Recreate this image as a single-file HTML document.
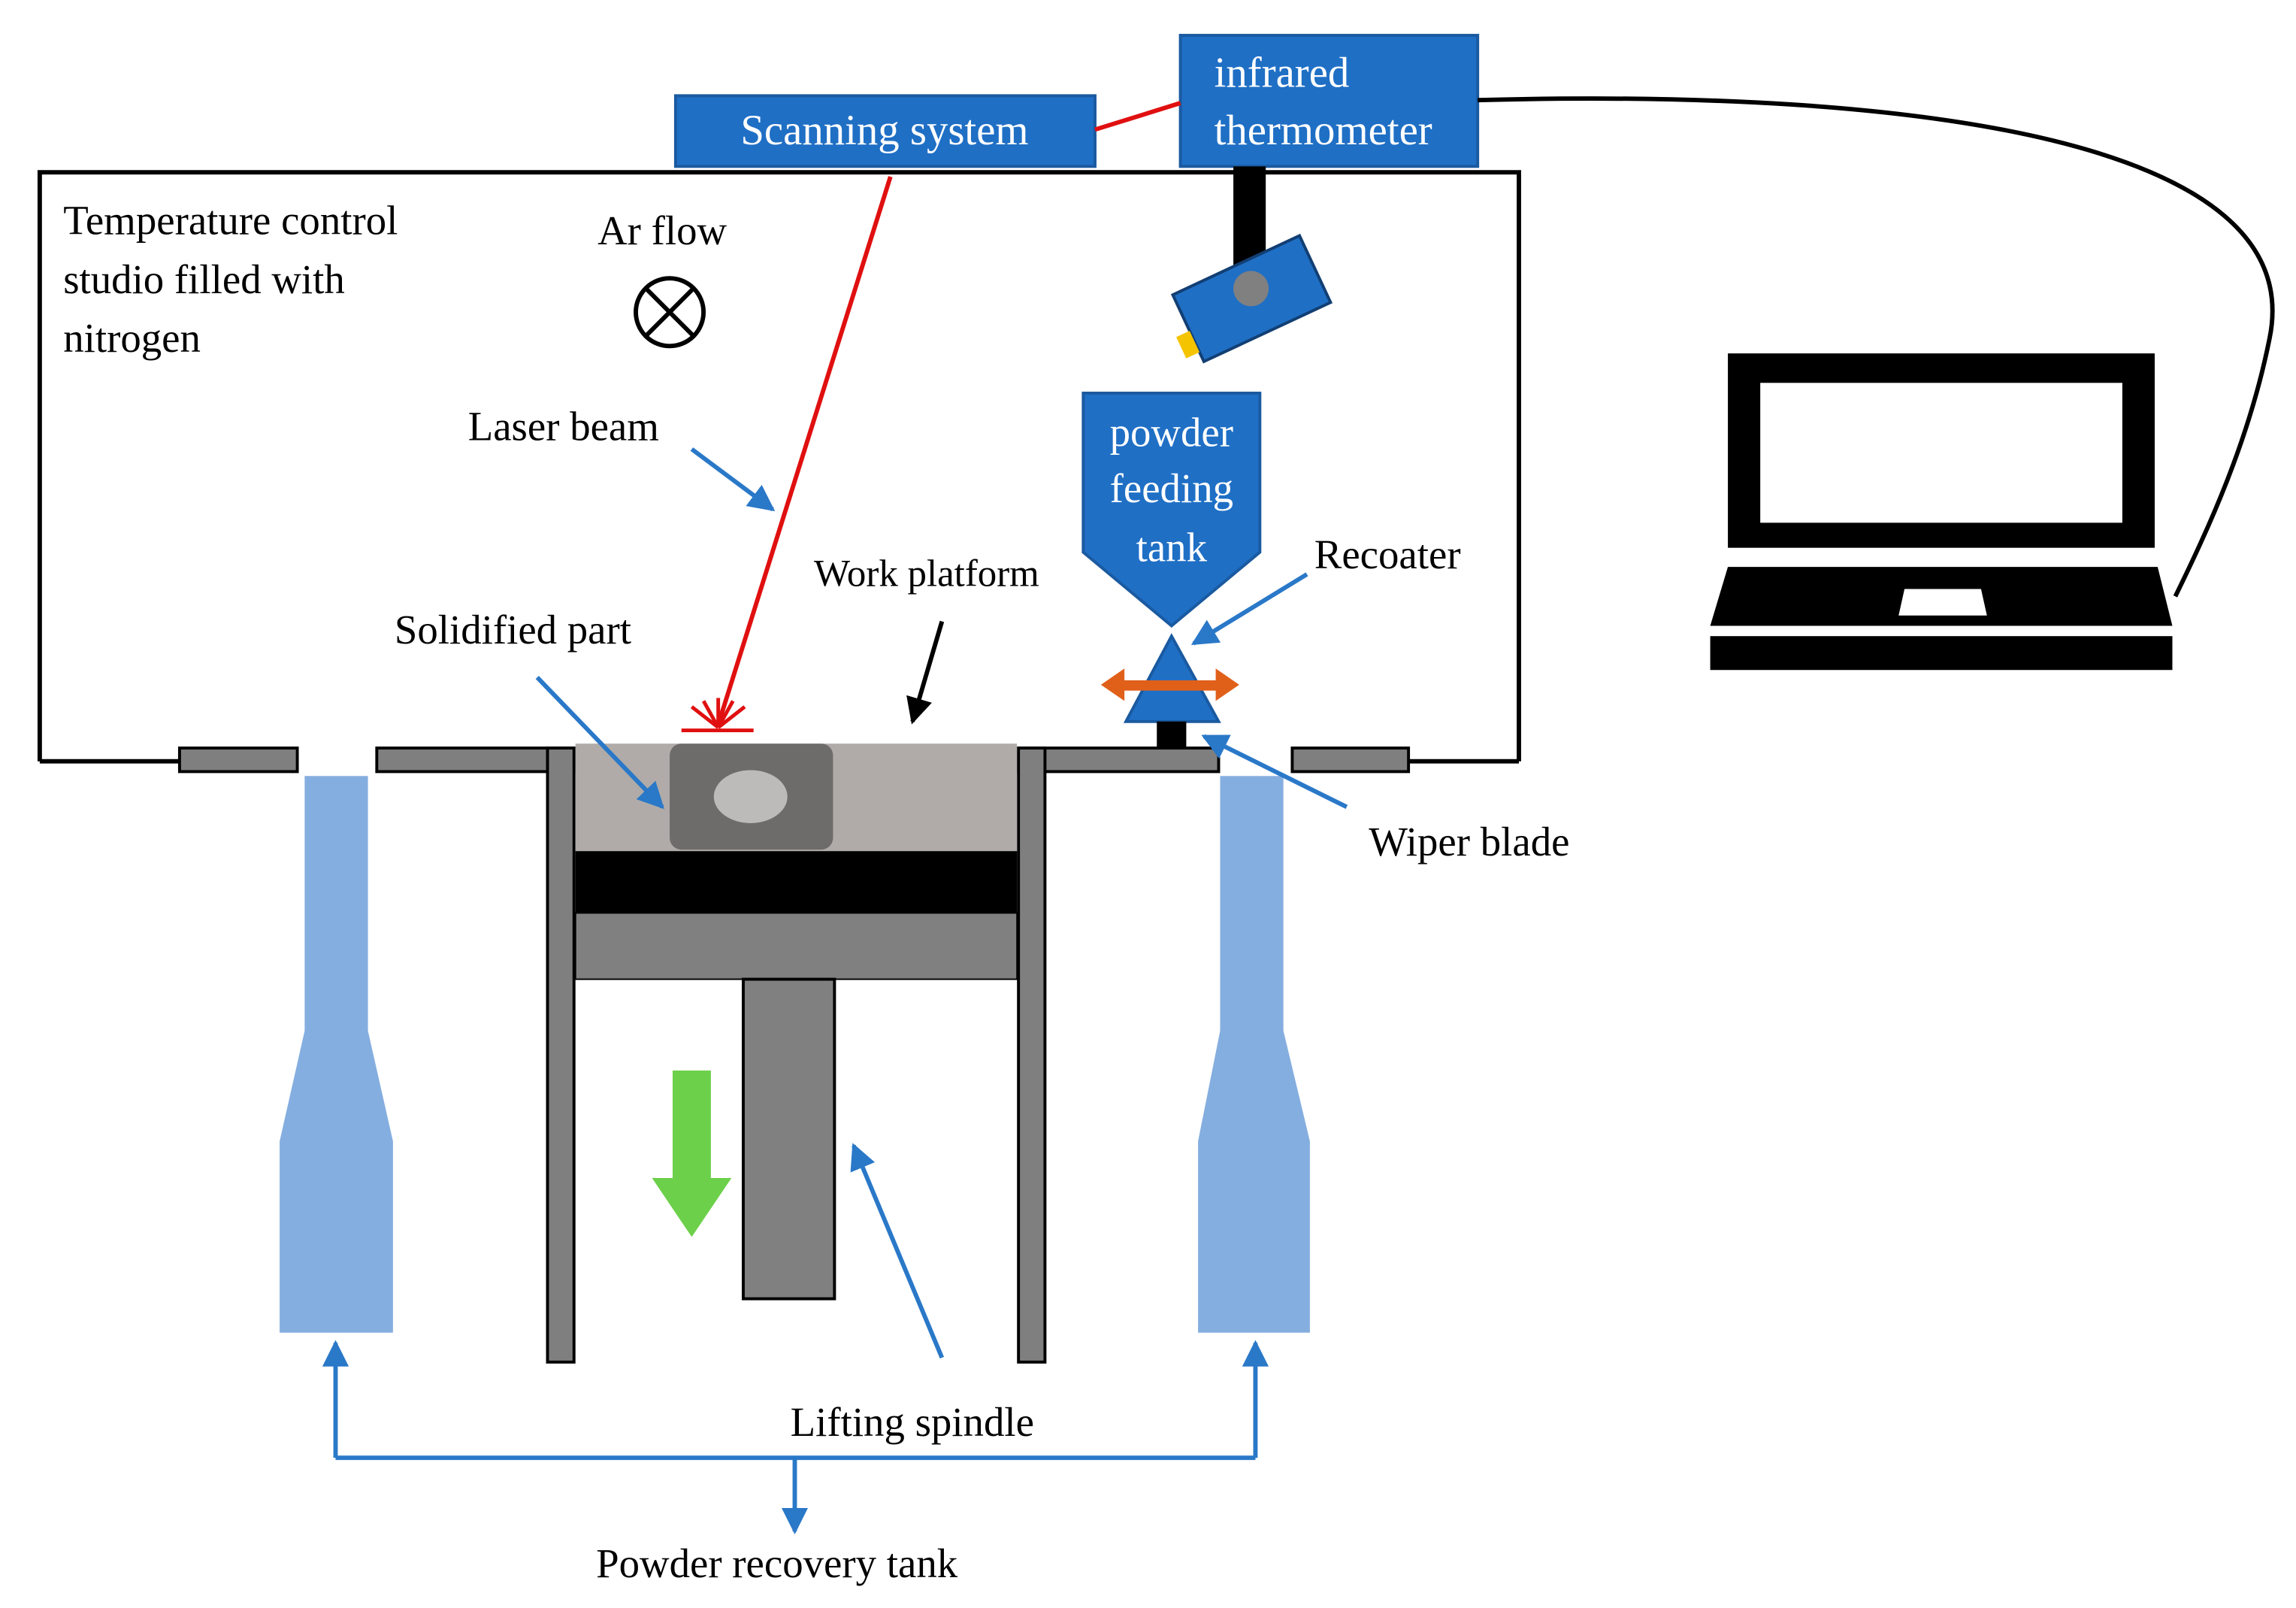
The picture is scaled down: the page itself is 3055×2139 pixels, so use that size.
<!DOCTYPE html>
<html><head><meta charset="utf-8"><style>
html,body{margin:0;padding:0;background:#fff;}
svg{display:block;}
text{font-family:"Liberation Serif",serif;}
</style></head><body>
<svg width="3055" height="2139" viewBox="0 0 1560 1092" preserveAspectRatio="none" xmlns="http://www.w3.org/2000/svg">
<defs>
<marker id="abk" markerWidth="18" markerHeight="18" refX="16" refY="9" orient="auto" markerUnits="userSpaceOnUse"><path d="M0,0 L18,9 L0,18 z" fill="#000"/></marker>
<marker id="abl" markerWidth="18" markerHeight="18" refX="16" refY="9" orient="auto" markerUnits="userSpaceOnUse"><path d="M0,0 L18,9 L0,18 z" fill="#2a78c8"/></marker>
</defs>
<path d="M27,517 L27,117 L1032,117 L1032,517" fill="none" stroke="#000" stroke-width="3"/>
<line x1="27" y1="517" x2="122" y2="517" stroke="#000" stroke-width="3"/>
<line x1="957" y1="517" x2="1032" y2="517" stroke="#000" stroke-width="3"/>
<g fill="#7f7f7f" stroke="#000" stroke-width="2">
<rect x="122" y="508" width="80" height="16"/>
<rect x="256" y="508" width="134" height="16"/>
<rect x="692" y="508" width="136" height="16"/>
<rect x="878" y="508" width="79" height="16"/>
</g>
<rect x="459" y="65" width="285" height="48" fill="#1f6fc5" stroke="#1a5aa0" stroke-width="2"/>
<text x="601" y="98" font-size="29" fill="#fff" text-anchor="middle">Scanning  system</text>
<rect x="802" y="24" width="202" height="89" fill="#1f6fc5" stroke="#1a5aa0" stroke-width="2"/>
<text x="825" y="59" font-size="29" fill="#fff">infrared</text>
<text x="825" y="98" font-size="29" fill="#fff">thermometer</text>
<line x1="744" y1="88" x2="802" y2="70" stroke="#e01010" stroke-width="3"/>
<path d="M1004,68 C1300,60 1570,95 1542,230 C1528,300 1500,360 1478,405" fill="none" stroke="#000" stroke-width="3"/>
<rect x="838" y="113" width="22" height="80" fill="#000"/>
<g transform="rotate(-25 850 203)">
<rect x="803" y="178" width="95" height="50" fill="#1f6fc5" stroke="#123f73" stroke-width="2"/>
<rect x="793" y="205" width="10" height="16" fill="#f5c400"/>
</g>
<circle cx="850" cy="196" r="12" fill="#808080"/>
<line x1="605" y1="120" x2="488" y2="492" stroke="#e01010" stroke-width="3"/>
<g stroke="#e01010" stroke-width="2.5">
<line x1="463" y1="496" x2="512" y2="496"/>
<line x1="488" y1="494" x2="470" y2="480"/>
<line x1="488" y1="494" x2="478" y2="476"/>
<line x1="488" y1="494" x2="488" y2="474"/>
<line x1="488" y1="494" x2="498" y2="476"/>
<line x1="488" y1="494" x2="506" y2="480"/>
</g>
<g font-size="28" fill="#000">
<text x="43" y="159">Temperature control</text>
<text x="43" y="199">studio filled with</text>
<text x="43" y="239">nitrogen</text>
<text x="406" y="166">Ar flow</text>
<text x="318" y="299">Laser beam</text>
<text x="268" y="437">Solidified part</text>
<text x="553" y="398" font-size="26">Work platform</text>
<text x="893" y="386">Recoater</text>
<text x="930" y="581">Wiper blade</text>
<text x="537" y="975">Lifting  spindle</text>
<text x="405" y="1071">Powder recovery tank</text>
</g>
<circle cx="455" cy="212" r="23" fill="none" stroke="#000" stroke-width="3"/>
<line x1="439" y1="196" x2="471" y2="228" stroke="#000" stroke-width="3"/>
<line x1="471" y1="196" x2="439" y2="228" stroke="#000" stroke-width="3"/>
<path d="M736,267 L856,267 L856,375 L796,425 L736,375 Z" fill="#1f6fc5" stroke="#1a5aa0" stroke-width="2"/>
<text x="796" y="303" font-size="28" fill="#fff" text-anchor="middle">powder</text>
<text x="796" y="341" font-size="28" fill="#fff" text-anchor="middle">feeding</text>
<text x="796" y="381" font-size="28" fill="#fff" text-anchor="middle">tank</text>
<path d="M796,432 L828,490 L765,490 Z" fill="#1f6fc5" stroke="#1a5aa0" stroke-width="2"/>
<rect x="786" y="490" width="20" height="18" fill="#000"/>
<g fill="#e0601a">
<rect x="760" y="462" width="70" height="7"/>
<path d="M748,465 L764,454 L764,476 Z"/>
<path d="M842,465 L826,454 L826,476 Z"/>
</g>
<rect x="372" y="508" width="18" height="417" fill="#7f7f7f" stroke="#000" stroke-width="2"/>
<rect x="692" y="508" width="18" height="417" fill="#7f7f7f" stroke="#000" stroke-width="2"/>
<rect x="391" y="505" width="300" height="73" fill="#b0aba8"/>
<rect x="455" y="505" width="111" height="72" rx="8" fill="#6e6c6b"/>
<ellipse cx="510" cy="541" rx="25" ry="18" fill="#bdbbba"/>
<rect x="391" y="578" width="300" height="42" fill="#000"/>
<rect x="391" y="620" width="300" height="45" fill="#808080" stroke="#000" stroke-width="1"/>
<rect x="505" y="665" width="62" height="217" fill="#808080" stroke="#000" stroke-width="2"/>
<rect x="457" y="727" width="26" height="75" fill="#6cd04a"/>
<path d="M443,800 L497,800 L470,840 Z" fill="#6cd04a"/>
<path d="M207,527 L250,527 L250,700 L267,775 L267,905 L190,905 L190,775 L207,700 Z" fill="#85aee0"/>
<path d="M829,527 L872,527 L872,700 L890,775 L890,905 L814,905 L814,775 L829,700 Z" fill="#85aee0"/>
<g stroke="#2a78c8" stroke-width="3" fill="none">
<line x1="470" y1="305" x2="525" y2="346" marker-end="url(#abl)"/>
<line x1="365" y1="460" x2="450" y2="548" marker-end="url(#abl)"/>
<line x1="888" y1="390" x2="811" y2="437" marker-end="url(#abl)"/>
<line x1="915" y1="548" x2="818" y2="500" marker-end="url(#abl)"/>
<line x1="640" y1="922" x2="580" y2="778" marker-end="url(#abl)"/>
<path d="M228,990 L853,990"/>
<line x1="228" y1="990" x2="228" y2="912" marker-end="url(#abl)"/>
<line x1="853" y1="990" x2="853" y2="912" marker-end="url(#abl)"/>
<line x1="540" y1="990" x2="540" y2="1040" marker-end="url(#abl)"/>
</g>
<line x1="640" y1="422" x2="620" y2="490" stroke="#000" stroke-width="3" marker-end="url(#abk)"/>
<g transform="translate(-6,0)">
<rect x="1180" y="240" width="290" height="132" fill="#000"/>
<rect x="1202" y="260" width="246" height="95" fill="#fff"/>
<path d="M1180,385 L1472,385 L1482,425 L1168,425 Z" fill="#000"/>
<path d="M1300,400 L1352,400 L1356,418 L1296,418 Z" fill="#fff"/>
<rect x="1168" y="432" width="314" height="23" fill="#000"/>
</g>
</svg>
</body></html>
